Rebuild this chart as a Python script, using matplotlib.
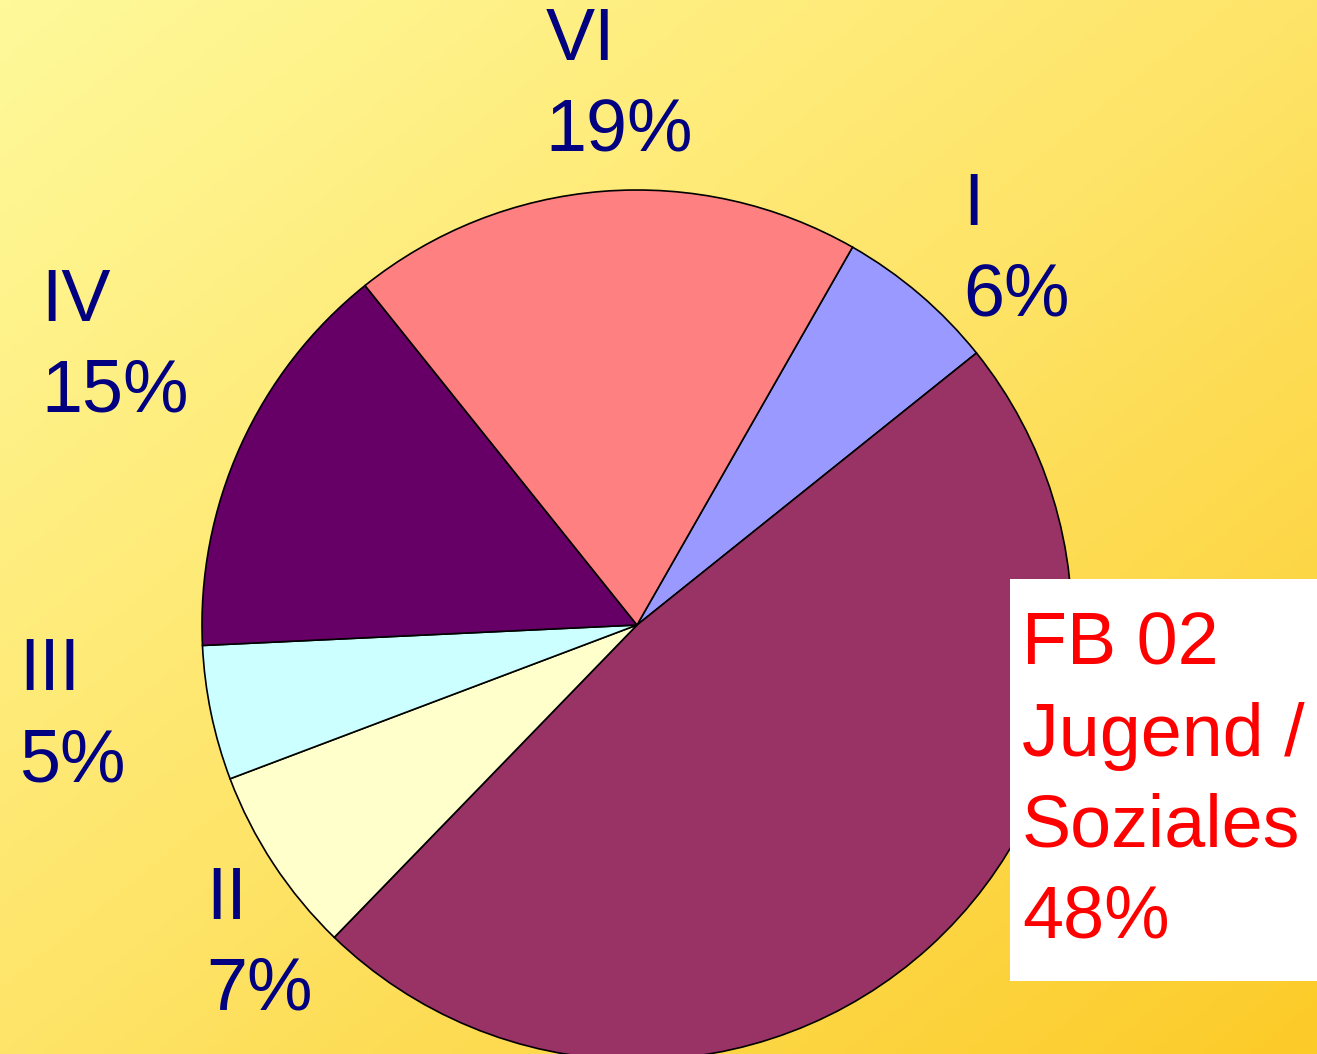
import numpy as np
import matplotlib
matplotlib.use("Agg")
import matplotlib.pyplot as plt
from matplotlib.colors import LinearSegmentedColormap
from matplotlib.patches import Rectangle

plt.rcParams["font.family"] = ["Liberation Sans", "DejaVu Sans"]

# slices in clockwise order, starting at the top-right
names = ["I", "FB 02\nJugend /\nSoziales", "II", "III", "IV", "VI"]
shares = [6, 48, 7, 5, 15, 19]
colors = ["#9999FF", "#993366", "#FFFFCC", "#CCFFFF", "#660066", "#FF8080"]

# label anchors (left edge, vertical centre) in pie units
label_pos = [(0.75, 0.86), (0.885, -0.36), (-0.99, -0.735),
             (-1.42, -0.21), (-1.37, 0.64), (-0.21, 1.24)]

W, H = 1317, 1054
fig = plt.figure(figsize=(W / 100, H / 100), dpi=100)

# diagonal yellow gradient background
bg = fig.add_axes([0, 0, 1, 1])
gx, gy = np.meshgrid(np.linspace(0, 1, 300), np.linspace(0, 1, 240))
grad = (gx + gy) / 2
cmap = LinearSegmentedColormap.from_list("bg", ["#FFF99A", "#FEE468", "#FCCB28"])
bg.imshow(grad, cmap=cmap, aspect="auto", extent=[0, 1, 0, 1], origin="upper")
bg.axis("off")

cx, cy, r = 637, 625, 435
ax = fig.add_axes([(cx - r) / W, (H - cy - r) / H, 2 * r / W, 2 * r / H])
wedges, _ = ax.pie(
    shares,
    colors=colors,
    startangle=60.3,
    counterclock=False,
    radius=1,
    wedgeprops=dict(edgecolor="black", linewidth=1.2),
)
ax.set_xlim(-1, 1)
ax.set_ylim(-1, 1)
ax.axis("off")

# white box behind the highlighted label
ax.add_patch(Rectangle((1010 / W, (H - 981) / H), (W - 1010) / W, 402 / H,
                       transform=fig.transFigure, facecolor="white",
                       edgecolor="none", zorder=4, clip_on=False))

for name, share, (lx, ly) in zip(names, shares, label_pos):
    txt = f"{name}\n{share}%"
    color = "#FF0000" if name.startswith("FB") else "#000080"
    ax.text(lx, ly, txt, ha="left", va="center", fontsize=53,
            color=color, linespacing=1.41, clip_on=False, zorder=5)

fig.savefig("out.png", dpi=100)
